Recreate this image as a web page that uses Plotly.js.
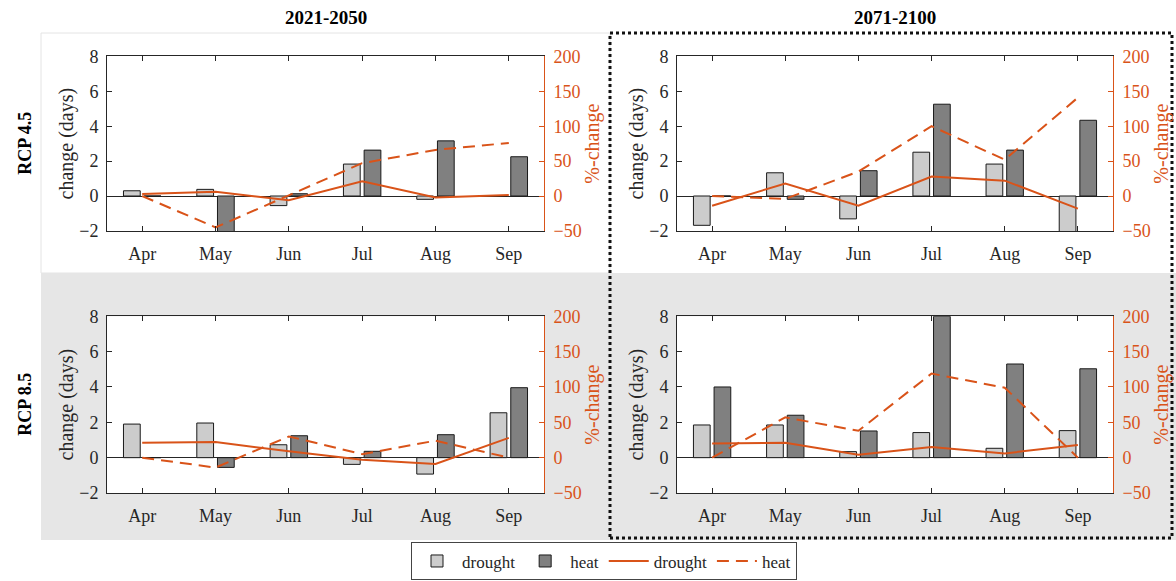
<!DOCTYPE html>
<html>
<head>
<meta charset="utf-8">
<script src="https://cdn.plot.ly/plotly-3.0.1.min.js"></script>
<style>html,body{margin:0;padding:0;background:#fff;}#chart{width:1176px;height:581px;}</style>
</head>
<body>
<div id="chart"></div>
<script>
// ---------- data ----------
const months = ['Apr', 'May', 'Jun', 'Jul', 'Aug', 'Sep'];
const columnTitles = ['2021-2050', '2071-2100'];
const rowTitles = ['RCP 4.5', 'RCP 8.5'];

// RCP 4.5, 2021-2050
const drought45Near = [0.30, 0.38, -0.55, 1.83, -0.19, 0.00];
const heat45Near = [0.00, -2.05, 0.13, 2.63, 3.16, 2.25];
const droughtPct45Near = [3, 6, -6, 21, -2, 1.5];
const heatPct45Near = [0, -45, 1, 47, 66, 76];

// RCP 4.5, 2071-2100
const drought45Far = [-1.68, 1.33, -1.31, 2.51, 1.83, -2.05];
const heat45Far = [0.00, -0.19, 1.45, 5.26, 2.63, 4.34];
const droughtPct45Far = [-14, 18, -14, 28, 22, -18];
const heatPct45Far = [0, -4, 35, 100, 52, 141];

// RCP 8.5, 2021-2050
const drought85Near = [1.90, 1.96, 0.73, -0.38, -0.93, 2.54];
const heat85Near = [0.00, -0.55, 1.24, 0.36, 1.30, 3.96];
const droughtPct85Near = [21, 22, 9, -3, -9, 28];
const heatPct85Near = [0, -14, 30, 5, 24, 0];

// RCP 8.5, 2071-2100
const drought85Far = [1.85, 1.85, 0.34, 1.42, 0.53, 1.53];
const heat85Far = [4.00, 2.40, 1.51, 8.00, 5.30, 5.03];
const droughtPct85Far = [20, 21, 4, 15, 6, 18];
const heatPct85Far = [0, 57, 38, 119, 99, 0];

// ---------- styling / layout ----------
const W = 1176, H = 581;
const FONT = '"Liberation Serif", "Times New Roman", serif';
const ORANGE = '#D95319';
const DARK = '#262626';
const fx = p => p / W;
const fy = p => 1 - p / H;

const panels = [
  {d: drought45Near, h: heat45Near, dp: droughtPct45Near, hp: heatPct45Near, box: [107, 544, 56.4, 230.9]},
  {d: drought45Far, h: heat45Far, dp: droughtPct45Far, hp: heatPct45Far, box: [677, 1113, 56.4, 230.9]},
  {d: drought85Near, h: heat85Near, dp: droughtPct85Near, hp: heatPct85Near, box: [107, 544, 316.3, 493]},
  {d: drought85Far, h: heat85Far, dp: droughtPct85Far, hp: heatPct85Far, box: [677, 1113, 316.3, 493]}
];

const traces = [];
const layout = {
  width: W, height: H,
  margin: {l: 0, r: 0, t: 0, b: 0},
  paper_bgcolor: 'white',
  plot_bgcolor: 'rgba(0,0,0,0)',
  barmode: 'group',
  bargap: 0.436,
  bargroupgap: 0.19,
  font: {family: FONT, size: 18, color: DARK},
  showlegend: true,
  legend: {
    orientation: 'h', x: fx(604), xanchor: 'center', y: 0.001, yanchor: 'bottom',
    bordercolor: '#444', borderwidth: 1, bgcolor: 'white',
    font: {family: FONT, size: 17, color: DARK},
    itemwidth: 40, traceorder: 'normal', tracegroupgap: 0
  },
  shapes: [],
  annotations: []
};

// background decorations
layout.shapes.push({type: 'rect', xref: 'paper', yref: 'paper', layer: 'below',
  x0: fx(41), x1: fx(610), y0: fy(273), y1: fy(33),
  fillcolor: 'white', line: {color: '#e4e4e4', width: 1}});
layout.shapes.push({type: 'rect', xref: 'paper', yref: 'paper', layer: 'below',
  x0: fx(41), x1: 1, y0: fy(540), y1: fy(273),
  fillcolor: '#e6e6e6', line: {width: 0}});

panels.forEach((p, k) => {
  const xid = 'x' + (k + 1);
  const yL = 'y' + (2 * k + 1);
  const yR = 'y' + (2 * k + 2);
  const xKey = k === 0 ? 'xaxis' : 'xaxis' + (k + 1);
  const yLKey = 'yaxis' + (2 * k === 0 ? '' : (2 * k + 1));
  const yRKey = 'yaxis' + (2 * k + 2);
  const [x0, x1, t, b] = p.box;
  const xdom = [fx(x0), fx(x1)];
  const ydom = [fy(b), fy(t)];

  // white plotting area
  layout.shapes.push({type: 'rect', xref: 'paper', yref: 'paper', layer: 'below',
    x0: xdom[0], x1: xdom[1], y0: ydom[0], y1: ydom[1], fillcolor: 'white', line: {width: 0}});

  layout[xKey] = {
    domain: xdom, anchor: yL, type: 'category', categoryorder: 'array', categoryarray: months,
    range: [-0.48, 5.48], showgrid: false, zeroline: false,
    showline: true, linecolor: DARK, linewidth: 1, mirror: 'ticks',
    ticks: 'inside', ticklen: 5, tickcolor: DARK, ticklabelstandoff: 6,
    tickfont: {family: FONT, size: 18, color: DARK}
  };
  layout[yLKey] = {
    domain: ydom, anchor: xid, range: [-2, 8], dtick: 2, tick0: 0,
    showgrid: false, zeroline: true, zerolinecolor: DARK, zerolinewidth: 1,
    showline: true, linecolor: DARK, linewidth: 1, mirror: false,
    ticks: 'inside', ticklen: 5, tickcolor: DARK, ticklabelstandoff: 4,
    tickfont: {family: FONT, size: 18, color: DARK},
    title: {text: 'change (days)', font: {family: FONT, size: 20, color: DARK}, standoff: 0}
  };
  layout[yRKey] = {
    overlaying: yL, side: 'right', anchor: xid, range: [-50, 200], dtick: 50, tick0: 0,
    showgrid: false, zeroline: false,
    showline: true, linecolor: ORANGE, linewidth: 1,
    ticks: 'inside', ticklen: 5, tickcolor: ORANGE, ticklabelstandoff: 5,
    tickfont: {family: FONT, size: 18, color: ORANGE},
    title: {text: '%-change', font: {family: FONT, size: 20, color: ORANGE}, standoff: 2}
  };

  const show = k === 0;
  traces.push({type: 'bar', name: 'drought', x: months, y: p.d, xaxis: xid, yaxis: yL,
    marker: {color: '#cccccc', line: {color: '#1a1a1a', width: 1}}, showlegend: show, legendgroup: 'bd'});
  traces.push({type: 'bar', name: 'heat', x: months, y: p.h, xaxis: xid, yaxis: yL,
    marker: {color: '#808080', line: {color: '#1a1a1a', width: 1}}, showlegend: show, legendgroup: 'bh'});
  traces.push({type: 'scatter', mode: 'lines', name: 'drought', x: months, y: p.dp, xaxis: xid, yaxis: yR,
    line: {color: ORANGE, width: 2}, showlegend: show, legendgroup: 'ld'});
  traces.push({type: 'scatter', mode: 'lines', name: 'heat', x: months, y: p.hp, xaxis: xid, yaxis: yR,
    line: {color: ORANGE, width: 2, dash: '12px,7px'}, showlegend: show, legendgroup: 'lh'});
});

// dotted frame around the 2071-2100 column
layout.shapes.push({type: 'rect', xref: 'paper', yref: 'paper', layer: 'below',
  x0: fx(610), x1: fx(1172), y0: fy(538), y1: fy(33),
  line: {color: '#111', width: 3, dash: 'dot'}});

// column and row titles
columnTitles.forEach((txt, i) => {
  const b = panels[i].box;
  layout.annotations.push({text: txt, xref: 'paper', yref: 'paper', showarrow: false,
    x: fx((b[0] + b[1]) / 2), y: fy(17), xanchor: 'center', yanchor: 'middle',
    font: {family: FONT, size: 19, color: '#000', weight: 'bold'}});
});
rowTitles.forEach((txt, i) => {
  const b = panels[2 * i].box;
  layout.annotations.push({text: txt, xref: 'paper', yref: 'paper', showarrow: false,
    x: fx(25), y: fy((b[2] + b[3]) / 2), xanchor: 'center', yanchor: 'middle', textangle: -90,
    font: {family: FONT, size: 18, color: '#000', weight: 'bold'}});
});

Plotly.newPlot('chart', traces, layout, {staticPlot: true});
</script>
</body>
</html>
